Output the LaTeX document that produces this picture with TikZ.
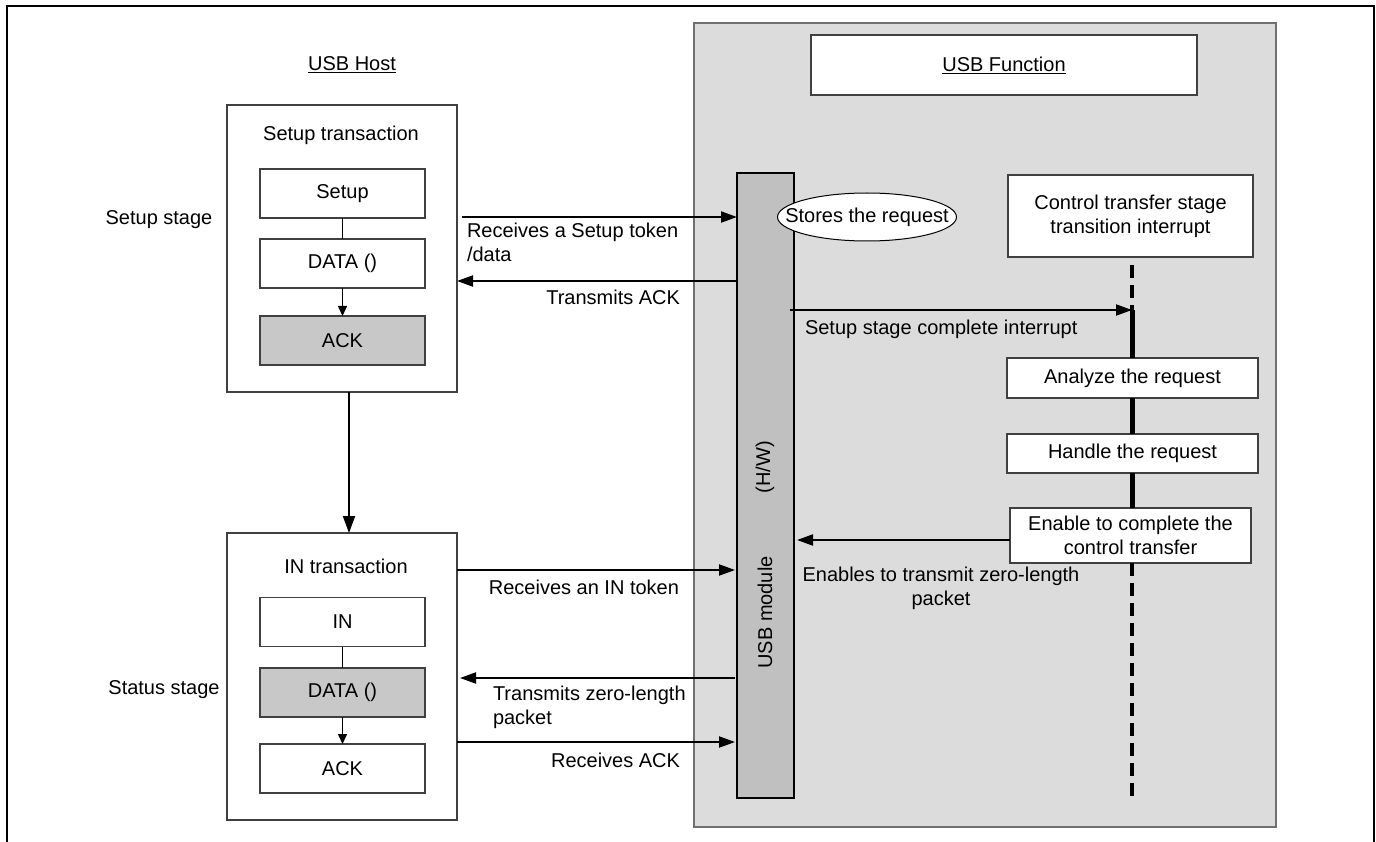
\documentclass[tikz,border=0pt]{standalone}
\usepackage{fontspec}
\setmainfont{Liberation Sans}
\usetikzlibrary{arrows.meta,shapes.geometric}
\definecolor{panelgray}{HTML}{DCDCDC}
\definecolor{bargray}{HTML}{C0C0C0}
\definecolor{ackgray}{HTML}{C8C8C8}
\definecolor{edgegray}{HTML}{404040}
\definecolor{paneledge}{HTML}{707070}
\begin{document}
\begin{tikzpicture}[x=1pt,y=-1pt,
  every node/.style={font=\fontsize{20pt}{24pt}\selectfont, inner sep=0pt, outer sep=0pt},
  frame/.style={line width=2.6pt},
  txbox/.style={draw=edgegray, line width=1.2pt, minimum width=230pt, minimum height=287pt},
  pkt/.style={draw=edgegray, line width=1.2pt, fill=white, minimum width=165pt, minimum height=49pt},
  pktgray/.style={pkt, fill=ackgray},
  swbox/.style={draw=edgegray, line width=1.2pt, fill=white, align=center},
  msg/.style={line width=2pt, -{Triangle[length=16pt,width=11pt]}},
  link/.style={line width=1.5pt},
  linkarr/.style={link, -{Triangle[length=10pt,width=9pt]}},
  hostarr/.style={line width=2pt, -{Triangle[length=17pt,width=12pt]}},
  life/.style={line width=5pt},
  lifedash/.style={line width=3.5pt, dash pattern=on 13pt off 7pt},
]
\useasboundingbox (0,0) rectangle (1376,842);

% outer frame, running off the bottom edge
\draw[frame] (7,850) -- (7,6) -- (1374,6) -- (1374,850);

% ---------------- USB host side ----------------
\node (hosttitle) at (352,65) {\underline{USB Host}};

\node[txbox] (setupT) at (342,248.5) {};
\node (setupTt) at (341,135) {Setup transaction};
\node[pkt] (setup) at (342.5,193.5) {Setup};
\node[pkt] (data1) at (342.5,263.5) {DATA ()};
\node[pktgray] (ack1) at (342.5,340.5) {ACK};
\draw[link] (setup) -- (data1);
\draw[linkarr] (data1) -- (ack1);
\node (setupstage) at (159,220) {Setup stage};

\node[txbox] (inT) at (342,676.5) {};
\node (inTt) at (346,566) {IN transaction};
\node[pkt] (in) at (342.5,622) {IN};
\node[pktgray] (data2) at (342.5,692.5) {DATA ()};
\node[pkt] (ack2) at (342.5,768.5) {ACK};
\draw[link] (in) -- (data2);
\draw[linkarr] (data2) -- (ack2);
\node (statusstage) at (164,690) {Status stage};

\draw[hostarr] ([xshift=7pt]setupT.south) -- ([xshift=7pt]inT.north);

% ---------------- USB function side ----------------
\node[draw=paneledge, line width=1.4pt, fill=panelgray,
      minimum width=582pt, minimum height=804pt] (panel) at (985,425) {};
\node[draw=edgegray, line width=1.2pt, fill=white,
      minimum width=386pt, minimum height=60pt] (functitle) at (1004,65) {\underline{USB Function}};

% hardware module bar
\node[draw=black, line width=2pt, fill=bargray,
      minimum width=57pt, minimum height=625pt] (bar) at (765.5,485.5) {};
\node[rotate=90] (barname) at (765,612.5) {USB module};
\node[rotate=90] (barhw) at (765,467) {(H/W)};

\node[ellipse, draw=black, line width=1pt, fill=white,
      minimum width=179pt, minimum height=48pt] (stores) at (867,217)
      {\makebox[0pt]{Stores the request}};

% software steps on the interrupt lifeline
\node[swbox, minimum width=245pt, minimum height=82pt] (ctrl) at (1130.5,216)
      {Control transfer stage\\transition interrupt};
\node[swbox, minimum width=251pt, minimum height=40pt] (analyze) at (1132.5,378) {Analyze the request};
\node[swbox, minimum width=251pt, minimum height=39pt] (handle) at (1132.5,453.5) {Handle the request};
\node[swbox, minimum width=241pt, minimum height=55pt] (enable) at (1130.5,535.5)
      {Enable to complete the\\control transfer};

\coordinate (lifetop) at (1132,310);
\coordinate (lifeend) at (1132,798);
\draw[lifedash] ([shift={(1.5,8)}]ctrl.south) -- (lifetop);
\draw[life] (lifetop) -- (analyze.north -| lifetop);
\draw[life] (analyze.south -| lifetop) -- (handle.north -| lifetop);
\draw[life] (handle.south -| lifetop) -- (enable.north -| lifetop);
\draw[lifedash] (enable.south -| lifetop) -- (lifeend);

% ---------------- messages ----------------
\draw[msg] ([xshift=5pt]setupT.east |- stores) -- (bar.west |- stores);
\node[anchor=west, align=left] (m1) at (467,242) {Receives a Setup token\\/data};

\draw[msg] (bar.west |- 0,281) -- (setupT.east |- 0,281);
\node[anchor=east] (m2) at (680,297) {Transmits ACK};

\draw[msg] ([xshift=-4pt]bar.east |- lifetop) -- (lifetop);
\node[anchor=west] (m3) at (805,329) {Setup stage complete interrupt};

\draw[msg] (enable.west |- 0,540) -- ([xshift=3pt]bar.east |- 0,540);
\node[align=center] (m4) at (941,588) {Enables to transmit zero-length\\packet};

\draw[msg] (inT.east |- 0,570) -- ([xshift=-2pt]bar.west |- 0,570);
\node[anchor=east] (m5) at (679,587) {Receives an IN token};

\draw[msg] ([xshift=-2pt]bar.west |- 0,678) -- ([xshift=3pt]inT.east |- 0,678);
\node[anchor=west, align=left] (m6) at (493,707) {Transmits zero-length\\packet};

\draw[msg] (inT.east |- 0,742) -- ([xshift=-2pt]bar.west |- 0,742);
\node[anchor=east] (m7) at (680,760) {Receives ACK};

\end{tikzpicture}
\end{document}
